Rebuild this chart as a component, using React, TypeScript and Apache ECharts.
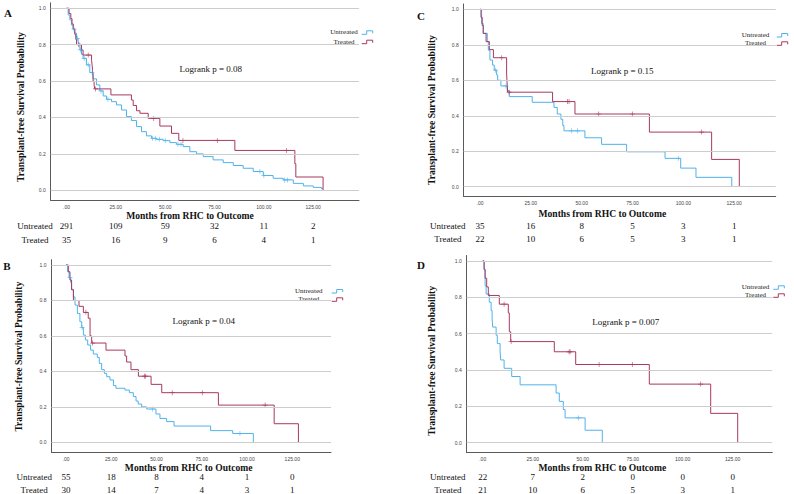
import React, { useEffect, useRef } from "react";
import * as echarts from "echarts";

// Shared axis values
const timeTicks = [0, 25, 50, 75, 100, 125];
const probTicks = [0, 0.2, 0.4, 0.6, 0.8, 1.0];
const groupNames = ["Untreated", "Treated"];
const panelLetters = ["A", "B", "C", "D"];
const logrankLabels = ["Logrank p = 0.08", "Logrank p = 0.04", "Logrank p = 0.15", "Logrank p = 0.007"];
const xTitle = "Months from RHC to Outcome";
const yTitle = "Transplant-free Survival Probability";

// Kaplan-Meier steps: [month, survival after event]
const untreatedA = [
  [0, 1], [0.85, 0.963], [1.7, 0.936], [2.5, 0.908], [3.4, 0.885], [4.2, 0.863], [5.1, 0.835],
  [5.9, 0.808], [6.8, 0.771], [7.6, 0.747], [8.4, 0.725], [10.1, 0.689], [11.8, 0.647], [13.5, 0.612],
  [15.2, 0.579], [16.9, 0.546], [18.6, 0.518], [20.3, 0.5], [22.8, 0.487], [25.3, 0.469], [27.9, 0.441],
  [30.4, 0.405], [32.9, 0.383], [35.5, 0.35], [38, 0.322], [40.5, 0.299], [43.1, 0.286], [45.6, 0.28],
  [49, 0.273], [52.4, 0.262], [55.7, 0.253], [59.1, 0.24], [62.5, 0.212], [65.9, 0.2], [69.3, 0.185],
  [74.3, 0.167], [79.4, 0.152], [84.5, 0.136], [89.5, 0.121], [94.6, 0.103], [99.7, 0.081], [104.7, 0.066],
  [109.8, 0.057], [114.9, 0.038], [120, 0.024], [125, 0.016], [129.2, 0.009], [130, 0.009],
];
const untreatedCensorA = [
  [3.8, 0.885], [5.5, 0.835], [7.0, 0.771], [9.0, 0.725], [11, 0.689], [13, 0.647], [17.5, 0.546],
  [21, 0.5], [43.5, 0.286], [45, 0.286], [47, 0.28], [50, 0.273], [56.5, 0.253], [58, 0.253],
  [98, 0.103], [100, 0.081], [110.5, 0.057], [112, 0.057],
];
const treatedA = [
  [0, 1], [1.3, 0.971], [2.2, 0.943], [2.8, 0.914], [3.4, 0.886], [4.2, 0.857], [4.7, 0.829], [5.1, 0.8],
  [7.6, 0.771], [8.4, 0.743], [12.7, 0.714], [13.0, 0.686], [13.2, 0.657], [13.4, 0.629], [13.5, 0.6],
  [14.0, 0.578], [14.3, 0.557], [22.5, 0.524], [32.9, 0.496], [33.8, 0.466], [35.5, 0.437], [37.2, 0.423],
  [41.4, 0.395], [47.3, 0.353], [53.2, 0.313], [56.9, 0.274], [85.3, 0.219], [115.7, 0.146], [116.2, 0.073],
  [130, 0],
];
const treatedCensorA = [[6.2, 0.8], [11, 0.743], [14.7, 0.557], [44.2, 0.395], [59, 0.274], [76.4, 0.274], [111.5, 0.219]];

const untreatedB = [
  [0, 1], [0.9, 0.962], [1.7, 0.929], [2.6, 0.9], [3.1, 0.863], [4.1, 0.82], [5.0, 0.774], [6.3, 0.727],
  [7.7, 0.68], [8.7, 0.647], [9.6, 0.605], [10.7, 0.577], [12.0, 0.549], [13.6, 0.52], [15.1, 0.498],
  [17.3, 0.479], [18.4, 0.445], [19.7, 0.41], [21.2, 0.389], [22.5, 0.37], [24.3, 0.352], [26.2, 0.32],
  [27.6, 0.305], [32.6, 0.295], [35, 0.28], [37.2, 0.258], [38.7, 0.233], [39.9, 0.216], [41.8, 0.2],
  [44.6, 0.188], [49.7, 0.16], [51.9, 0.135], [55.6, 0.117], [59.7, 0.092], [79.9, 0.066], [92.1, 0.05],
  [103.5, 0],
];
const untreatedCensorB = [[2.2, 0.929], [8.9, 0.647], [47.9, 0.188], [96.1, 0.05]];
const treatedB = [
  [0, 1], [1.3, 0.962], [2.2, 0.915], [3.1, 0.86], [4.1, 0.8], [7.2, 0.767], [9.6, 0.733], [12.3, 0.7],
  [13.3, 0.6], [14.2, 0.56], [22.1, 0.52], [32.6, 0.487], [33.5, 0.453], [35.9, 0.41], [40, 0.373],
  [47, 0.327], [52.9, 0.28], [84.2, 0.21], [115, 0.105], [128.4, 0],
];
const treatedCensorB = [[11, 0.733], [14.7, 0.56], [43.3, 0.373], [44, 0.373], [58.7, 0.28], [75.3, 0.28], [110, 0.21]];

const untreatedC = [
  [0, 1], [0.8, 0.92], [1.6, 0.865], [3.6, 0.818], [4.1, 0.77], [4.9, 0.714], [6.2, 0.686], [7.0, 0.657],
  [8.2, 0.63], [8.7, 0.6], [10.3, 0.568], [13.4, 0.541], [14.4, 0.508], [25.7, 0.476], [36.4, 0.447],
  [38, 0.41], [39.8, 0.38], [40.7, 0.345], [41.3, 0.315], [51.6, 0.276], [59.8, 0.239], [72.1, 0.197],
  [91, 0.16], [98.7, 0.105], [106.2, 0.053], [123.8, 0],
];
const untreatedCensorC = [[7.7, 0.657], [12.8, 0.568], [45.1, 0.315], [47.9, 0.315], [97.5, 0.16]];
const treatedC = [
  [0, 1], [0.5, 0.955], [1.1, 0.909], [1.6, 0.864], [3.0, 0.818], [4.6, 0.773], [6.6, 0.727],
  [13.1, 0.636], [13.3, 0.59], [13.6, 0.533], [35.7, 0.48], [46.7, 0.41], [83.3, 0.308], [113.9, 0.154],
  [127.5, 0],
];
const treatedCensorC = [[10.7, 0.727], [14.3, 0.533], [43.1, 0.48], [43.8, 0.48], [58.4, 0.41], [74.9, 0.41], [109, 0.308]];

const untreatedD = [
  [0, 1], [0.7, 0.955], [1.2, 0.864], [1.7, 0.818], [3.3, 0.773], [4.2, 0.727], [4.7, 0.682], [5, 0.636],
  [6.7, 0.591], [7.3, 0.545], [8.7, 0.5], [9, 0.455], [10.7, 0.409], [14.5, 0.364], [18.7, 0.318],
  [36.7, 0.273], [38.3, 0.227], [40.3, 0.182], [41.2, 0.136], [51.2, 0.068], [59.8, 0],
];
const untreatedCensorD = [[47.8, 0.136]];
const treatedD = [
  [0, 1], [0.7, 0.952], [1.2, 0.905], [2.0, 0.857], [2.8, 0.81], [8.3, 0.762], [12.8, 0.714], [13.3, 0.61],
  [14.0, 0.556], [35.8, 0.5], [46.5, 0.43], [83.3, 0.322], [114, 0.161], [127.5, 0],
];
const treatedCensorD = [[10.7, 0.762], [14.2, 0.556], [43.2, 0.5], [43.7, 0.5], [58.2, 0.43], [74.8, 0.43], [109, 0.322]];

// Numbers at risk at 0, 25, 50, 75, 100, 125 months
const atRiskUntreatedA = [291, 109, 59, 32, 11, 2];
const atRiskTreatedA = [35, 16, 9, 6, 4, 1];
const atRiskUntreatedB = [55, 18, 8, 4, 1, 0];
const atRiskTreatedB = [30, 14, 7, 4, 3, 1];
const atRiskUntreatedC = [35, 16, 8, 5, 3, 1];
const atRiskTreatedC = [22, 10, 6, 5, 3, 1];
const atRiskUntreatedD = [22, 7, 2, 0, 0, 0];
const atRiskTreatedD = [21, 10, 6, 5, 3, 1];

const panels = [
  { untreated: untreatedA, untreatedCensor: untreatedCensorA, treated: treatedA, treatedCensor: treatedCensorA, riskU: atRiskUntreatedA, riskT: atRiskTreatedA },
  { untreated: untreatedB, untreatedCensor: untreatedCensorB, treated: treatedB, treatedCensor: treatedCensorB, riskU: atRiskUntreatedB, riskT: atRiskTreatedB },
  { untreated: untreatedC, untreatedCensor: untreatedCensorC, treated: treatedC, treatedCensor: treatedCensorC, riskU: atRiskUntreatedC, riskT: atRiskTreatedC },
  { untreated: untreatedD, untreatedCensor: untreatedCensorD, treated: treatedD, treatedCensor: treatedCensorD, riskU: atRiskUntreatedD, riskT: atRiskTreatedD },
];

// Panel geometry (pixels)
const layouts = [
  { left: 50.7, top: 2.8, width: 308.3, height: 197.5, xMax: 148.2, letter: [8, 13], yTitle: [20.7, 107], xTitle: [190, 215.3], logrank: [210.7, 69], legendX: 344, legendY: [32.3, 41.7], iconX: 361.7, tableLabelX: 35, tableY: [225.7, 240] },
  { left: 51.5, top: 259.7, width: 279.5, height: 192.4, xMax: 146.4, letter: [7, 266], yTitle: [18.3, 356.7], xTitle: [188.7, 467.7], logrank: [203.7, 321], legendX: 308.7, legendY: [291, 299.3], iconX: 331.7, tableLabelX: 34.2, tableY: [476.7, 490] },
  { left: 463.7, top: 4.0, width: 312, height: 192.5, xMax: 145.4, letter: [421, 15.5], yTitle: [431.7, 110], xTitle: [602.3, 213.3], logrank: [622.3, 71], legendX: 755.5, legendY: [35, 43.3], iconX: 776.7, tableLabelX: 447.8, tableY: [225.7, 239] },
  { left: 466.7, top: 255.5, width: 305.6, height: 197.1, xMax: 144.8, letter: [421, 265], yTitle: [431.7, 360.8], xTitle: [602.3, 467.3], logrank: [625.7, 322.3], legendX: 755.5, legendY: [287.3, 295.3], iconX: 773.3, tableLabelX: 447.8, tableY: [476.7, 490] },
];

const X_MIN = -8;
const Y_MIN = -0.055;
const Y_MAX = 1.03;
const BLUE = "#4fb2ea";
const MAROON = "#a8385f";
const GRID_GRAY = "#cdcdcd";
const AXIS_GRAY = "#5a5a5a";
const SERIF = "'Liberation Serif', 'Times New Roman', serif";
const SANS = "'Liberation Sans', Arial, sans-serif";
const PLUS = "path://M4.3,0H5.7V4.3H10V5.7H5.7V10H4.3V5.7H0V4.3H4.3Z";

const fmtTime = (v: number) => (v === 0 ? ".00" : v.toFixed(2));

function buildOption() {
  const grid: any[] = [];
  const xAxis: any[] = [];
  const yAxis: any[] = [];
  const series: any[] = [];
  const graphic: any[] = [];

  panels.forEach((p, i) => {
    const L = layouts[i];
    grid.push({ left: L.left, top: L.top, width: L.width, height: L.height, containLabel: false });
    xAxis.push({
      type: "value", gridIndex: i, min: X_MIN, max: L.xMax,
      axisLine: { show: true, onZero: false, lineStyle: { color: AXIS_GRAY, width: 1 } },
      axisTick: { show: false }, splitLine: { show: false },
      axisLabel: { customValues: timeTicks, formatter: fmtTime, fontSize: 5, color: "#444", margin: 4, fontFamily: SANS },
    });
    yAxis.push({
      type: "value", gridIndex: i, min: Y_MIN, max: Y_MAX,
      axisLine: { show: true, onZero: false, lineStyle: { color: AXIS_GRAY, width: 1 } },
      axisTick: { show: false }, splitLine: { show: false },
      axisLabel: { customValues: probTicks, formatter: (v: number) => v.toFixed(1), fontSize: 5, color: "#444", margin: 5, fontFamily: SANS },
    });

    // horizontal reference lines
    series.push({
      type: "line", xAxisIndex: i, yAxisIndex: i, data: [[0, 1]], symbol: "none", z: 1,
      lineStyle: { opacity: 0 }, silent: true,
      markLine: {
        silent: true, symbol: ["none", "none"], label: { show: false },
        lineStyle: { color: GRID_GRAY, width: 1, type: "solid" },
        data: probTicks.map((v) => ({ yAxis: v })),
      },
    });

    const curves = [
      { name: groupNames[0], data: p.untreated, censor: p.untreatedCensor, color: BLUE },
      { name: groupNames[1], data: p.treated, censor: p.treatedCensor, color: MAROON },
    ];
    curves.forEach((c) => {
      series.push({
        type: "line", name: c.name, xAxisIndex: i, yAxisIndex: i, data: c.data, step: "end",
        symbol: "none", z: 3, lineStyle: { color: c.color, width: 1 },
      });
      series.push({
        type: "scatter", name: c.name, xAxisIndex: i, yAxisIndex: i, data: c.censor,
        symbol: PLUS, symbolSize: 5, z: 4, itemStyle: { color: c.color },
      });
    });

    // panel letter
    graphic.push({ type: "text", x: L.letter[0], y: L.letter[1], style: { text: panelLetters[i], font: `bold 11px ${SERIF}`, fill: "#111", align: "center", verticalAlign: "middle" } });
    // axis titles
    graphic.push({ type: "text", x: L.yTitle[0], y: L.yTitle[1], rotation: Math.PI / 2, style: { text: yTitle, font: `bold 9.6px ${SERIF}`, fill: "#111", align: "center", verticalAlign: "middle" } });
    graphic.push({ type: "text", x: L.xTitle[0], y: L.xTitle[1], style: { text: xTitle, font: `bold 9.6px ${SERIF}`, fill: "#111", align: "center", verticalAlign: "middle" } });
    // log-rank annotation
    graphic.push({ type: "text", x: L.logrank[0], y: L.logrank[1], style: { text: logrankLabels[i], font: `9px ${SERIF}`, fill: "#111", align: "center", verticalAlign: "middle" } });

    // legend
    [BLUE, MAROON].forEach((col, k) => {
      const ly = L.legendY[k];
      graphic.push({ type: "text", x: L.legendX, y: ly, style: { text: groupNames[k], font: `7px ${SERIF}`, fill: "#222", align: "center", verticalAlign: "middle" } });
      const x0 = L.iconX;
      graphic.push({
        type: "polyline",
        shape: { points: [[x0, ly + 2], [x0 + 5, ly + 2], [x0 + 5, ly - 1.5], [x0 + 11, ly - 1.5], [x0 + 11, ly + 1]] },
        style: { stroke: col, lineWidth: 1, fill: "none" },
      });
    });

    // numbers at risk
    const pxPerMonth = L.width / (L.xMax - X_MIN);
    [p.riskU, p.riskT].forEach((row, k) => {
      const ty = L.tableY[k];
      graphic.push({ type: "text", x: L.tableLabelX, y: ty, style: { text: groupNames[k], font: `9px ${SERIF}`, fill: "#111", align: "center", verticalAlign: "middle" } });
      row.forEach((n, j) => {
        const tx = L.left + (timeTicks[j] - X_MIN) * pxPerMonth;
        graphic.push({ type: "text", x: tx, y: ty, style: { text: String(n), font: `9px ${SERIF}`, fill: "#111", align: "center", verticalAlign: "middle" } });
      });
    });
  });

  return { animation: false, backgroundColor: "#ffffff", grid, xAxis, yAxis, series, graphic };
}

export default function App() {
  const ref = useRef<HTMLDivElement>(null);
  useEffect(() => {
    if (!ref.current) return;
    const chart = echarts.init(ref.current, undefined, { renderer: "svg" });
    chart.setOption(buildOption());
    return () => chart.dispose();
  }, []);
  return (
    <div
      ref={ref}
      style={{ position: "absolute", left: 0, top: 0, width: 794, height: 494, background: "#fff" }}
    />
  );
}
